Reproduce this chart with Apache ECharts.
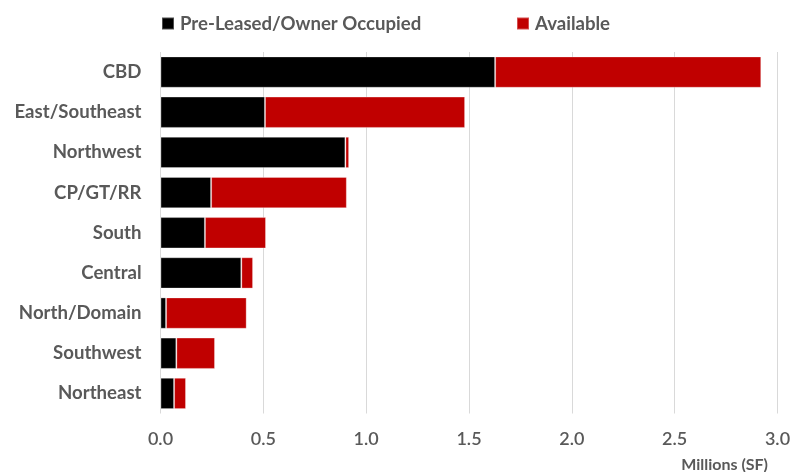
<!DOCTYPE html>
<html><head><meta charset="utf-8">
<script src="https://cdn.jsdelivr.net/npm/echarts@6/dist/echarts.min.js"></script>
<style>html,body{margin:0;padding:0;background:#fff}#c{width:799px;height:472px}</style>
</head><body><div id="c"></div>
<script>
const categories = ['CBD','East/Southeast','Northwest','CP/GT/RR','South','Central','North/Domain','Southwest','Northeast'];
const preLeased = [1.627, 0.508, 0.899, 0.246, 0.216, 0.393, 0.027, 0.077, 0.066];
const available = [1.294, 0.973, 0.018, 0.660, 0.297, 0.057, 0.392, 0.188, 0.058];
const xTicks = {min: 0, max: 3, interval: 0.5};
const seriesNames = ['Pre-Leased/Owner Occupied', 'Available'];
const colors = ['#000000', '#c00000'];

const chart = echarts.init(document.getElementById('c'), null, {renderer: 'canvas'});
const labelColor = '#595959';
const legendText = {fontFamily: 'Lato', fontWeight: 'bold', fontSize: 18.6, color: labelColor, padding: [0,0,0,1]};
chart.setOption({
  animation: false,
  grid: {left: 160.5, right: 21.5, top: 52, bottom: 58.5, containLabel: false},
  legend: [
    {data: [seriesNames[0]], left: 156, top: 9, itemWidth: 12, itemHeight: 12, icon: 'rect', itemGap: 6,
     textStyle: legendText},
    {data: [seriesNames[1]], left: 511, top: 9, itemWidth: 12, itemHeight: 12, icon: 'rect', itemGap: 6,
     textStyle: legendText}
  ],
  xAxis: {
    type: 'value', min: xTicks.min, max: xTicks.max, interval: xTicks.interval,
    axisLine: {show: false}, axisTick: {show: false},
    splitLine: {show: true, lineStyle: {color: '#d9d9d9', width: 1}},
    axisLabel: {fontFamily: 'Lato', fontWeight: 600, fontSize: 18, color: labelColor, margin: 17,
      formatter: v => v.toFixed(1)}
  },
  yAxis: {
    type: 'category', data: categories, inverse: true,
    axisLine: {show: false}, axisTick: {show: false},
    axisLabel: {fontFamily: 'Lato', fontWeight: 'bold', fontSize: 18.6, color: labelColor, margin: 19}
  },
  series: [
    {name: seriesNames[0], type: 'bar', stack: 't', data: preLeased, barCategoryGap: '22%',
     itemStyle: {color: colors[0], borderColor: 'rgba(255,255,255,0.3)', borderWidth: 1}},
    {name: seriesNames[1], type: 'bar', stack: 't', data: available, barCategoryGap: '22%',
     itemStyle: {color: colors[1], borderColor: 'rgba(255,255,255,0.3)', borderWidth: 1}}
  ],
  graphic: [{type: 'text', right: 31, top: 457,
    style: {text: 'Millions (SF)', font: 'bold 16px Lato', fill: labelColor}}]
});
</script></body></html>
